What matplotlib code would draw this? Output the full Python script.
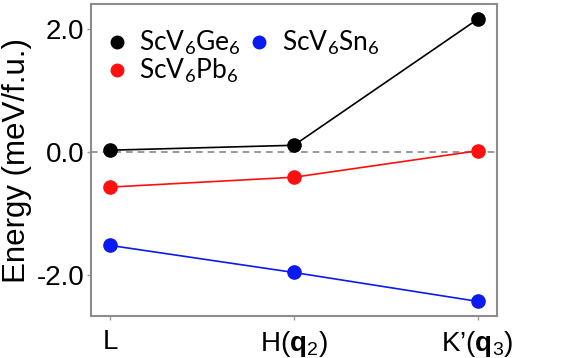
import matplotlib
matplotlib.use("Agg")
import matplotlib.pyplot as plt
from matplotlib.lines import Line2D

plt.rcParams['font.family'] = ['Liberation Sans', 'DejaVu Sans']
plt.rcParams['mathtext.fontset'] = 'custom'
plt.rcParams['mathtext.rm'] = 'Liberation Sans'
plt.rcParams['mathtext.bf'] = 'Liberation Sans:bold'
plt.rcParams['mathtext.default'] = 'regular'

x_labels = ['L', 'H($\\mathbf{q}_2$)', "K’($\\mathbf{q}_3$)"]
ge_vals = [0.03, 0.11, 2.16]
pb_vals = [-0.57, -0.41, 0.02]
sn_vals = [-1.52, -1.96, -2.43]
series_names = ['ScV$_6$Ge$_6$', 'ScV$_6$Pb$_6$', 'ScV$_6$Sn$_6$']
series_colors = ['#000000', '#ff1010', '#0a1af0']
y_ticks = [-2.0, 0.0, 2.0]
y_ticklabels = ['-2.0', '0.0', '2.0']

fig = plt.figure(figsize=(5.77, 3.58), dpi=100)
ax = fig.add_axes([0.158, 0.117, 0.703, 0.872])

xs = list(range(len(x_labels)))
ax.axhline(0, color='#888888', lw=1.2, ls=(0, (4, 3)), zorder=1)
for vals, c in zip([ge_vals, pb_vals, sn_vals], series_colors):
    ax.plot(xs, vals, color=c, lw=1.2, marker='o', ms=9.5, zorder=3)

ax.set_xlim(-0.105, 2.105)
ax.set_ylim(-2.67, 2.41)
ax.set_xticks(xs)
ax.set_xticklabels(x_labels, fontsize=20)
ax.set_yticks(y_ticks)
ax.set_yticklabels(y_ticklabels, fontsize=20)
ax.set_ylabel('Energy (meV/f.u.)', fontsize=22.5, labelpad=3)
ax.tick_params(axis='both', color='#999999', length=3, width=1, pad=2)
ax.tick_params(axis='x', pad=6)
for s in ax.spines.values():
    s.set_color('#8c8c8c')
    s.set_linewidth(1.5)

handles = [Line2D([], [], ls='none', marker='o', ms=9, color=c) for c in series_colors]
leg = ax.legend(handles, series_names, ncol=2, frameon=False, loc='upper left',
                bbox_to_anchor=(-0.015, 0.979), prop={'family': 'Lato', 'size': 19},
                handletextpad=0.35, columnspacing=0.2, labelspacing=0.0,
                borderaxespad=0.3, handlelength=1.0)

fig.savefig('out.png', dpi=100)
